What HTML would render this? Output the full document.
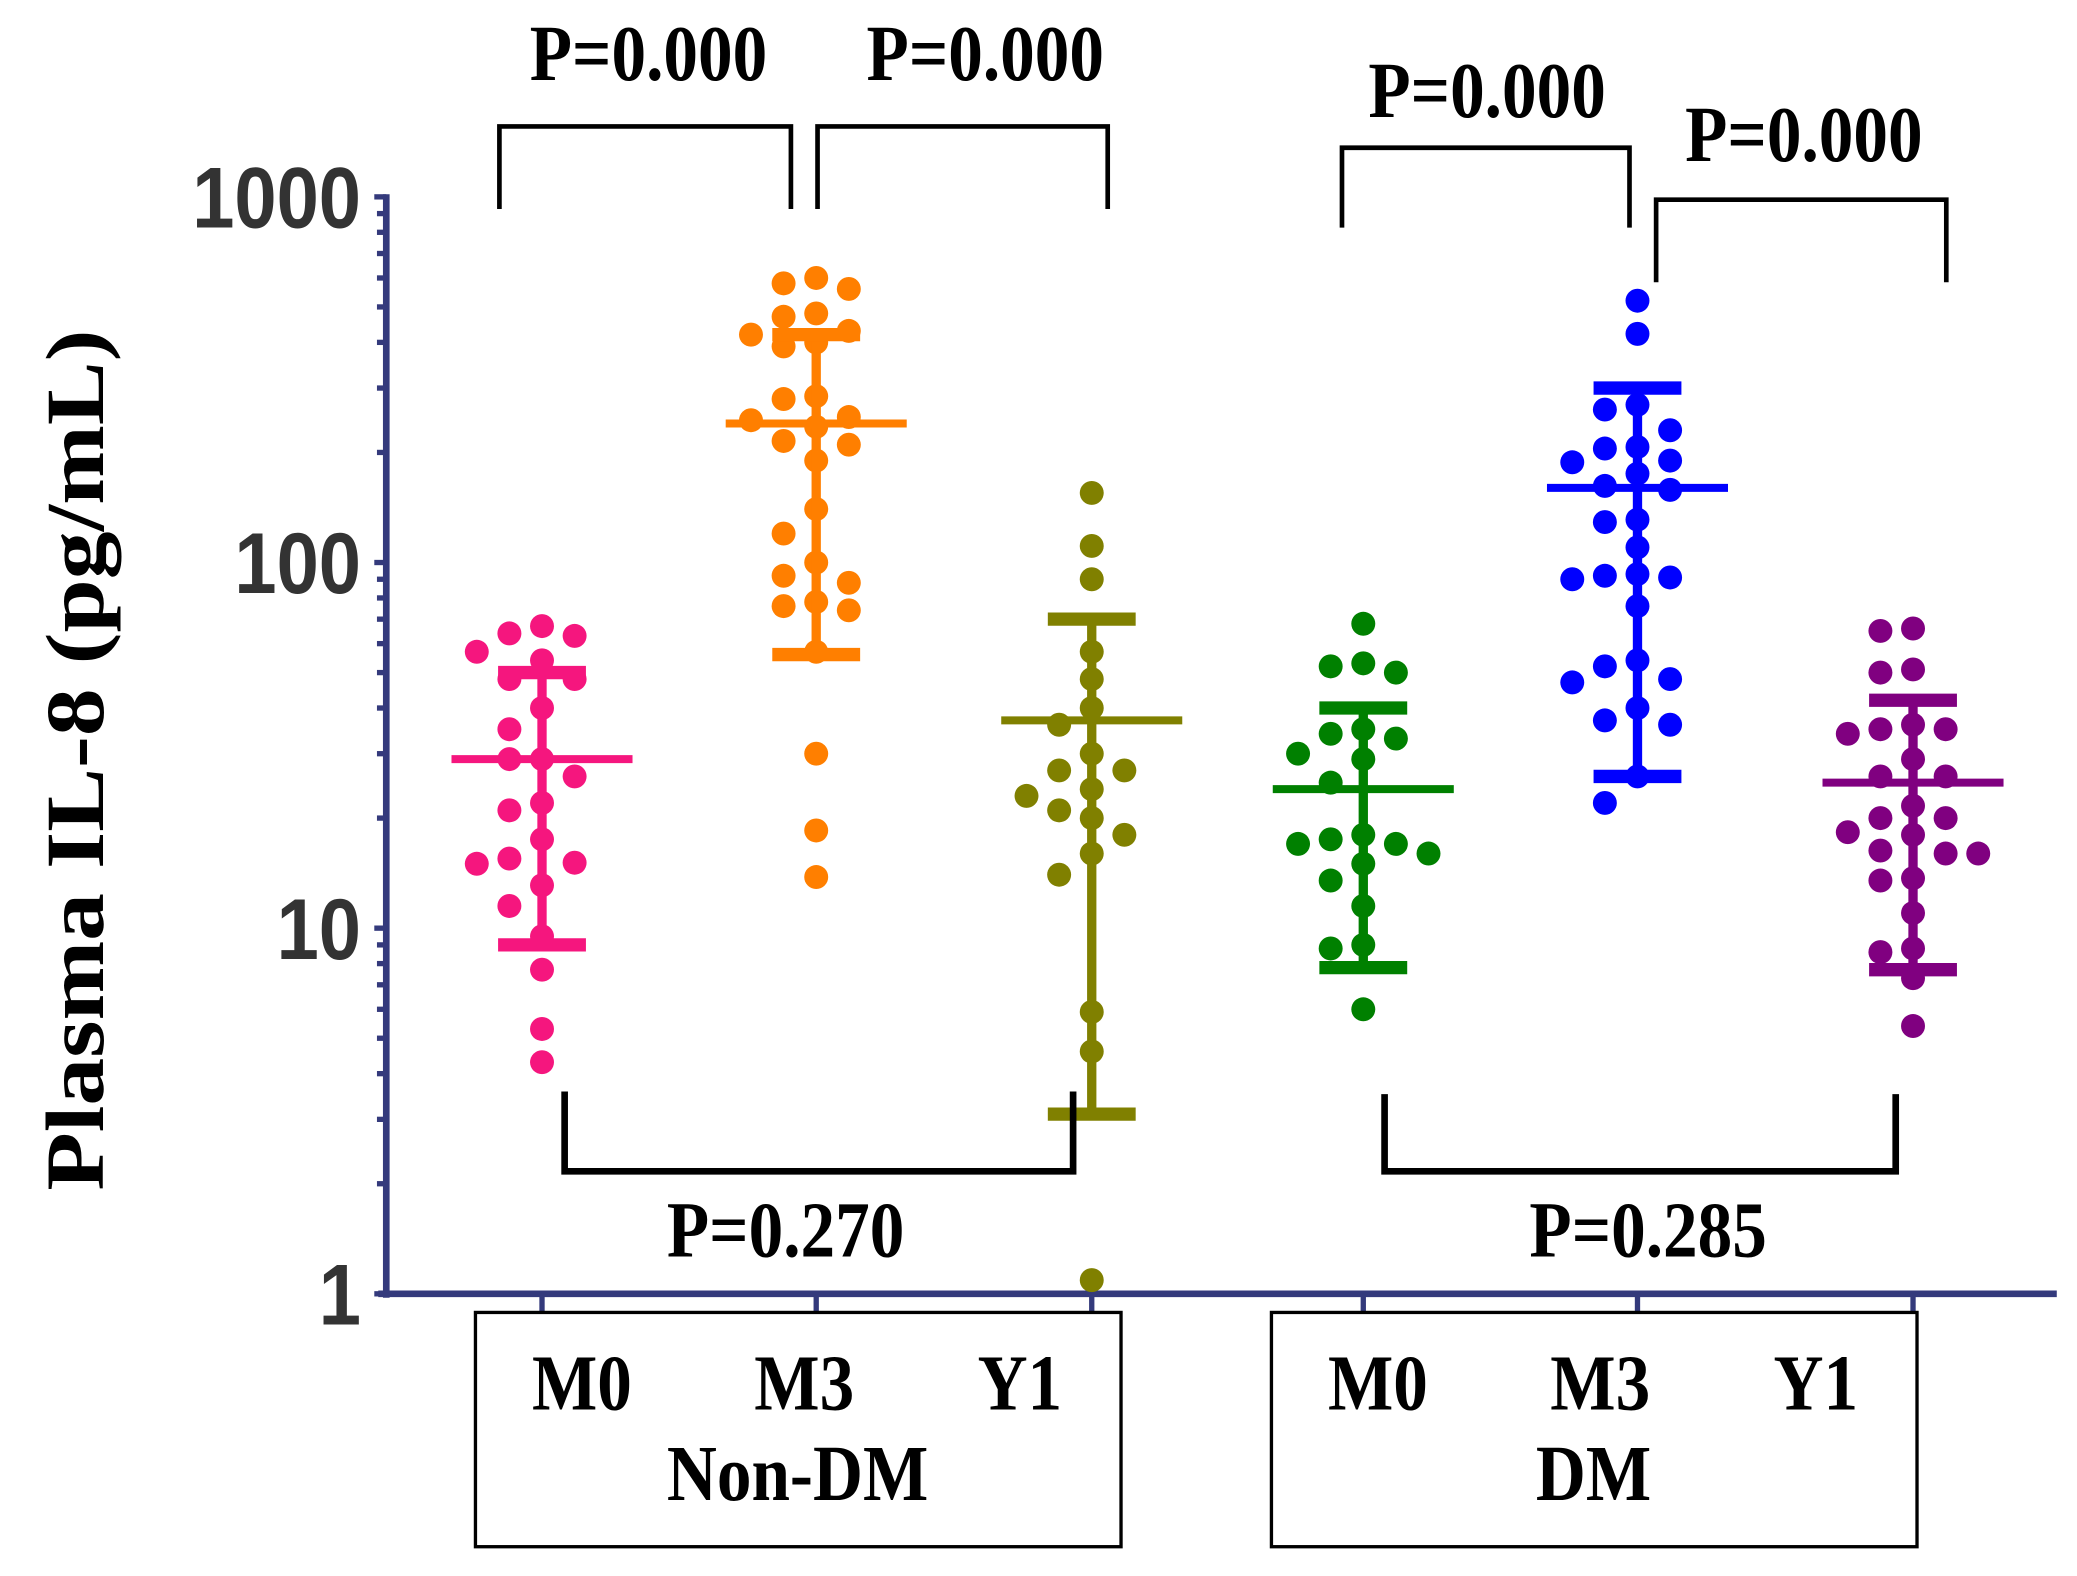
<!DOCTYPE html>
<html><head><meta charset="utf-8"><style>
html,body{margin:0;padding:0;background:#fff}
svg{display:block}
.serif{font-family:"Liberation Serif",serif;font-weight:bold;fill:#000}
.sans{font-family:"Liberation Sans",sans-serif;font-weight:bold;fill:#333}
</style></head><body>
<svg id="chart" width="2077" height="1576" viewBox="0 0 1560 1184" xmlns="http://www.w3.org/2000/svg">
<g id="axes"></g>
<g id="marks"></g>
<g id="annot"></g>
<text class="serif" font-size="62" textLength="647" lengthAdjust="spacingAndGlyphs" transform="translate(77,571) rotate(-90)" text-anchor="middle">Plasma IL-8 (pg/mL)</text>
</svg>
<script>
const groups = ["Non-DM M0","Non-DM M3","Non-DM Y1","DM M0","DM M3","DM Y1"];
const colors = ["#f5167e","#ff7f00","#808000","#008000","#0000ff","#800080"];
const means = [29,240,37,24,160,25];
const sdUpper = [50,420,70,40,300,42];
const sdLower = [9,56,3.1,7.8,26,7.7];
const valsNonDmM0 = [67,64,63,57,54,48,48,40,35,29,29,26,22,21,17.5,15.5,15.1,15,13.1,11.5,9.5,7.7,5.3,4.3];
const valsNonDmM3 = [600,580,560,480,470,430,420,400,390,285,280,250,245,235,215,210,190,140,120,100,92,88,78,76,74,57,30,18.5,13.8];
const valsNonDmY1 = [155,111,90,57,48,40,36,30,27,27,24,23,21,20,18,16,14,5.9,4.6,1.09];
const valsDmM0 = [68,53,52,50,35,34,33,30,29,25,18,17.5,17,17,16,15,13.5,11.5,9,8.8,6];
const valsDmM3 = [520,422,270,262,230,207,205,190,188,175,162,158,131,129,110,93,92,91,90,76,54,52,48,47,40,37,36,26,22];
const valsDmY1 = [66,65,51,50,36,35,35,34,29,26,26,21.6,20,20,18.3,18,16.3,16,16,13.7,13.5,11,8.8,8.6,7.3,5.4];
const allVals = [valsNonDmM0,valsNonDmM3,valsNonDmY1,valsDmM0,valsDmM3,valsDmY1];
const yTicks = [1,10,100,1000];
const yTickLabels = ["1","10","100","1000"];
const xLabels = ["M0","M3","Y1","M0","M3","Y1"];
const groupLabels = ["Non-DM","DM"];
const pTop = ["P=0.000","P=0.000","P=0.000","P=0.000"];
const pBottom = ["P=0.270","P=0.285"];

const NS="http://www.w3.org/2000/svg";
const axisColor="#343a7c";
const y0=972, decade=274.7;
function yScale(v){return y0-Math.log10(v)*decade;}
const xPos=[407,613,820,1024,1230,1437];
function xScale(i){return xPos[i];}
function mk(tag,attrs,parent){const e=document.createElementNS(NS,tag);for(const k in attrs)e.setAttribute(k,attrs[k]);parent.appendChild(e);return e;}
function serifText(x,y,size,parent){return mk('text',{x:0,y:0,'text-anchor':'middle','font-size':size,class:'serif',transform:`translate(${x},${y}) scale(1,1.15)`},parent);}

const axes=document.getElementById('axes');
const marks=document.getElementById('marks');
const annot=document.getElementById('annot');

let e=mk('line',{x1:290,y1:yScale(1000)-2,x2:290,y2:y0+3,stroke:axisColor,'stroke-width':5},axes);


for(let d=0;d<3;d++){for(let m=2;m<=9;m++){const v=Math.pow(10,d)*m;
 e=mk('line',{x1:283,y1:yScale(v),x2:290,y2:yScale(v),stroke:axisColor,'stroke-width':4},axes);
 
 }}
yTicks.forEach((t,i)=>{
 e=mk('line',{x1:281,y1:yScale(t),x2:290,y2:yScale(t),stroke:axisColor,'stroke-width':4},axes);
 
 
 e=mk('text',{x:0,y:0,'text-anchor':'end','font-size':60,class:'sans',transform:`translate(271,${yScale(t)+23}) scale(0.95,1.08)`},axes);
 
 
 e.textContent=yTickLabels[i];
});
e=mk('line',{x1:284,y1:y0,x2:1545,y2:y0,stroke:axisColor,'stroke-width':5},axes);


groups.forEach((g,i)=>{
 e=mk('line',{x1:xScale(i),y1:y0,x2:xScale(i),y2:y0+14,stroke:axisColor,'stroke-width':4},axes);
 
 
});

const r=9, gapX=24.5;
allVals.forEach((vals,gi)=>{
 const g=mk('g',{},marks);
 
 
 const sorted=vals.slice().sort((a,b)=>b-a);
 const placed=[];
 sorted.forEach(v=>{
  const y=yScale(v);
  let off=0;
  for(let k=0;k<20;k++){
   const cand=k===0?0:(k%2?-1:1)*Math.ceil(k/2)*gapX;
   if(placed.every(p=>Math.hypot(p[0]-cand,p[1]-y)>=2*r+2)){off=cand;break;}
  }
  placed.push([off,y]);
  const c=mk('circle',{cx:xScale(gi)+off,cy:y,r:r,fill:colors[gi]},g);
  
  
 });
 const x=xScale(gi), col=colors[gi];
 e=mk('line',{x1:x,y1:yScale(sdUpper[gi]),x2:x,y2:yScale(sdLower[gi]),stroke:col,'stroke-width':7},g);
 
 
 [sdUpper[gi],sdLower[gi]].forEach(v=>{
  e=mk('line',{x1:x-33,y1:yScale(v),x2:x+33,y2:yScale(v),stroke:col,'stroke-width':10},g);
  
  
 });
 e=mk('line',{x1:x-68,y1:yScale(means[gi]),x2:x+68,y2:yScale(means[gi]),stroke:col,'stroke-width':6},g);
 
 
});

const topBr=[[375,594,95,157,487,60],[614,832,95,157,740,60],[1008,1224,111,171,1117,88],[1244,1462,150,212,1355,121]];
topBr.forEach((b,i)=>{
 e=mk('path',{d:`M${b[0]},${b[3]}V${b[2]}H${b[1]}V${b[3]}`,fill:'none',stroke:'#000','stroke-width':3.5},annot);
 
 
 e=serifText(b[4],b[5],52,annot);
 
 
 e.textContent=pTop[i];
});
const botBr=[[424,806,820,880,590],[1040,1424,822,880,1238]];
botBr.forEach((b,i)=>{
 e=mk('path',{d:`M${b[0]},${b[2]}V${b[3]}H${b[1]}V${b[2]}`,fill:'none',stroke:'#000','stroke-width':5},annot);
 
 
 e=serifText(b[4],944,52,annot);
 
 
 e.textContent=pBottom[i];
});

const boxes=[[357,842,599],[955,1440,1197]];
const lblX=[437,604,766,1035,1202,1364];
boxes.forEach((b,i)=>{
 e=mk('rect',{x:b[0],y:986,width:b[1]-b[0],height:176,fill:'none',stroke:'#000','stroke-width':2.5},annot);
 
 
 e=serifText(b[2],1127,52,annot);
 
 
 e.textContent=groupLabels[i];
});
xLabels.forEach((l,i)=>{
 e=serifText(lblX[i],1059,52,annot);
 
 
 e.textContent=l;
});
</script>
</body></html>
